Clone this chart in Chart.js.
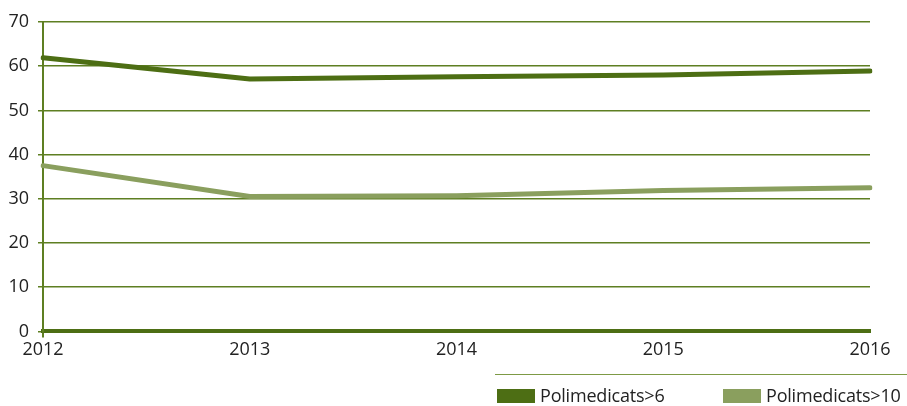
<!DOCTYPE html>
<html>
<head>
<meta charset="utf-8">
<script src="https://cdn.jsdelivr.net/npm/chart.js@4"></script>
<style>
  html, body { margin: 0; padding: 0; background: #fff; }
  #wrap { width: 907px; height: 406px; position: relative; overflow: hidden; }
  #legend { position: absolute; left: 495px; top: 374px; width: 412px; height: 32px;
            border-top: 1.5px solid #7d9a45; font-family: 'Open Sans', sans-serif;
            font-size: 18px; letter-spacing: -0.2px; color: #222; }
  .item { position: absolute; top: 8px; white-space: nowrap; line-height: 24px; }
  .box { display: inline-block; width: 38px; height: 14px; vertical-align: -1px; margin-right: 5px; }
</style>
</head>
<body>
<div id="wrap"><canvas id="polChart"></canvas><div id="legend"></div></div>
<script>
// years on the x axis
const years = ['2012', '2013', '2014', '2015', '2016'];
// values
const polimedicats6 = [61.9, 57.1, 57.6, 58.0, 58.9];
const polimedicats10 = [37.5, 30.5, 30.7, 31.9, 32.5];

const gridGreen = '#5e7f22';
const darkGreen = '#4d6e14';
const lightGreen = '#8a9f5e';
const tickFont = { family: "'Open Sans', sans-serif", size: 18 };

const ctx = document.getElementById('polChart').getContext('2d');
const myChart = new Chart(ctx, {
    type: 'line',
    data: {
        labels: years,
        datasets: [{
            label: 'Polimedicats>6',
            data: polimedicats6,
            borderColor: darkGreen,
            backgroundColor: darkGreen,
            borderWidth: 5,
            borderCapStyle: 'round',
            pointRadius: 0,
            tension: 0
        }, {
            label: 'Polimedicats>10',
            data: polimedicats10,
            borderColor: lightGreen,
            backgroundColor: lightGreen,
            borderWidth: 5,
            borderCapStyle: 'round',
            pointRadius: 0,
            tension: 0
        }]
    },
    options: {
        responsive: true,
        maintainAspectRatio: false,
        animation: false,
        layout: { padding: { top: 22, right: 37, left: 0, bottom: 43 } },
        plugins: {
            tooltip: { enabled: false },
            legend: { display: false }
        },
        scales: {
            x: {
                offset: false,
                //only the first tick shows, as the y axis running below zero
                grid: {
                    drawOnChartArea: false,
                    color: (c) => c.index === 0 ? gridGreen : 'rgba(0,0,0,0)',
                    lineWidth: 2,
                    tickLength: 6
                },
                border: { color: darkGreen, width: 4 },
                ticks: { color: '#222', padding: 2, maxRotation: 0, font: tickFont }
            },
            y: {
                min: 0,
                max: 70,
                afterFit(scale) { scale.width = 43; },
                ticks: { stepSize: 10, color: '#222', padding: 9, font: tickFont },
                grid: { color: gridGreen, lineWidth: 1.5, tickLength: 5 },
                border: { color: gridGreen, width: 2 }
            }
        }
    }
});

//html legend under the chart
const legendLefts = [2, 228];
const legendEl = document.getElementById('legend');
myChart.data.datasets.forEach((ds, i) => {
    const item = document.createElement('div');
    item.className = 'item';
    item.style.left = legendLefts[i] + 'px';
    item.innerHTML = '<span class="box" style="background:' + ds.borderColor + '"></span>' + ds.label;
    legendEl.appendChild(item);
});
</script>
</body>
</html>
